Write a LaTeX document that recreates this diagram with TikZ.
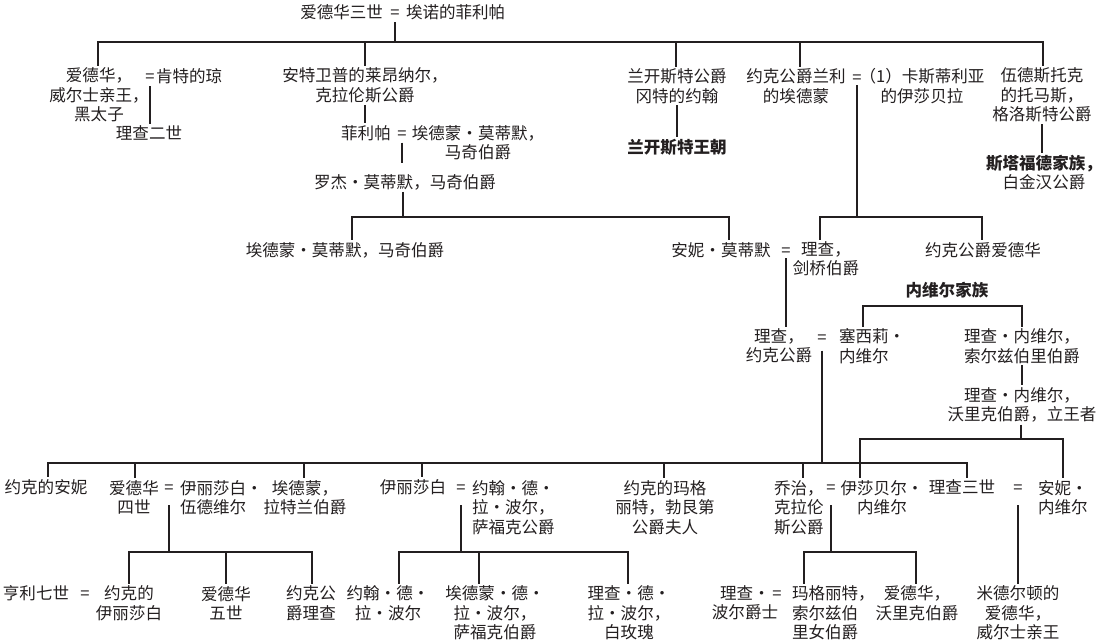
\documentclass[tikz,border=0pt]{standalone}
\usepackage{fontspec}
\setmainfont{Noto Sans CJK SC}
\usetikzlibrary{calc}
\definecolor{ink}{HTML}{231F20}
\newcommand\md{\makebox[1em]{·}}
\newcommand\fs{\fontsize{12.4pt}{14.6pt}\selectfont}
\newcommand\dropto[3]{\draw[ln] (#1) -| ($(#2.north)+(#3,0)$);}
\begin{document}
\begin{tikzpicture}[x=0.75pt,y=-0.75pt,
  lbl/.style={inner sep=0pt,outer sep=1.5pt,align=center,font=\fs,text=ink},
  lbll/.style={lbl,align=left,anchor=west},
  eq/.style={inner sep=0pt,outer sep=0pt,font=\fs,text=ink,text height=10.9pt,text depth=1.5pt},
  ln/.style={draw=ink,line width=1.5pt},
  bold/.style={font=\fs\bfseries}]
\fill[white] (0,0) rectangle (1103,642);
\useasboundingbox (0,0) rectangle (1103,642);

% ---- generation 1
\node[lbl,anchor=east] (edw3) at (385,12) {爱德华三世};
\node[eq] (m0) at (395,12) {=};
\node[lbl,anchor=west] (phil) at (404,12) {埃诺的菲利帕};

% ---- generation 2
\node[lbl] (bprince) at (99,95) {爱德华，\\威尔士亲王，\\黑太子};
\node[eq] (mbp) at (150,76) {=};
\node[lbl,anchor=west] (joan) at (154,76) {肯特的琼};
\node[lbl] (rich2) at (149,133) {理查二世};
\node[lbl] (lionel) at (365,85.5) {安特卫普的莱昂纳尔，\\克拉伦斯公爵};
\node[lbl] (phil2) at (366,133) {菲利帕};
\node[eq] (mmort) at (402,133) {=};
\node[lbl] (edmort) at (478,142.5) {埃德蒙\md 莫蒂默，\\马奇伯爵};
\node[lbl] (roger) at (405,182) {罗杰\md 莫蒂默，马奇伯爵};
\node[lbl] (edm2) at (345,250) {埃德蒙\md 莫蒂默，马奇伯爵};
\node[lbl] (annem) at (721,250) {安妮\md 莫蒂默};
\node[eq] (mcam) at (786,250) {=};
\node[lbl] (richcam) at (826,259) {理查，\\剑桥伯爵};
\node[lbl] (gaunt) at (677,86) {兰开斯特公爵\\冈特的约翰};
\node[lbl,bold] (lanc) at (677,147) {兰开斯特王朝};
\node[lbl] (langley) at (796,86) {约克公爵兰利\\的埃德蒙};
\node[eq] (mlang) at (857,77) {=};
\node[lbl] (isacast) at (922,86) {（1）卡斯蒂利亚\\的伊莎贝拉};
\node[lbl] (woodst) at (1042,95) {伍德斯托克\\的托马斯，\\格洛斯特公爵};
\node[lbl] (staff) at (1044,172.5) {\textbf{斯塔福德家族，}\\白金汉公爵};
\node[lbl] (yorked) at (983,250) {约克公爵爱德华};

% ---- Neville
\node[lbl,bold] (nev) at (947,290) {内维尔家族};
\node[lbl] (richyork) at (779,346) {理查，\\约克公爵};
\node[eq] (myork) at (822,337) {=};
\node[lbll] (cecily) at (837,346) {塞西莉\md\\内维尔};
\node[lbl] (salis) at (1022,346) {理查\md 内维尔，\\索尔兹伯里伯爵};
\node[lbl] (warw) at (1022,405) {理查\md 内维尔，\\沃里克伯爵，立王者};

% ---- row E
\node[lbl] (anney) at (46,487) {约克的安妮};
\node[lbl] (edw4) at (134,497.5) {爱德华\\四世};
\node[eq] (me4) at (169,487) {=};
\node[lbll] (woodv) at (178,497.5) {伊丽莎白\md\\伍德维尔};
\node[lbl] (edmrut) at (305,497.5) {埃德蒙，\\拉特兰伯爵};
\node[lbl] (elizy) at (413,487) {伊丽莎白};
\node[eq] (msuf) at (461,487) {=};
\node[lbll] (suffolk) at (470,507.5) {约翰\md 德\md\\拉\md 波尔，\\萨福克公爵};
\node[lbl] (margy) at (665,507.5) {约克的玛格\\丽特，勃艮第\\公爵夫人};
\node[lbll] (george) at (772,507.5) {乔治，\\克拉伦\\斯公爵};
\node[eq] (mgeo) at (831,487) {=};
\node[lbl] (isabel) at (882,497.5) {伊莎贝尔\md\\内维尔};
\node[lbl] (rich3) at (962,487) {理查三世};
\node[eq] (mr3) at (1018,487) {=};
\node[lbll] (annen) at (1036,497.5) {安妮\md\\内维尔};

% ---- row F
\node[lbl] (henry7) at (36,593) {亨利七世};
\node[eq] (mh7) at (85,593) {=};
\node[lbl] (elizy2) at (129,603) {约克的\\伊丽莎白};
\node[lbl] (edw5) at (226,603) {爱德华\\五世};
\node[lbl] (richyk) at (311,603) {约克公\\爵理查};
\node[lbl] (jdlp) at (388,603) {约翰\md 德\md\\拉\md 波尔};
\node[lbl] (edlp) at (495,613) {埃德蒙\md 德\md\\拉\md 波尔，\\萨福克伯爵};
\node[lbl] (rdlp) at (629,613) {理查\md 德\md\\拉\md 波尔，\\白玫瑰};
\node[lbl] (rpole) at (745,603) {理查\md\\波尔爵士};
\node[eq] (mpole) at (777,593) {=};
\node[lbll] (margs) at (790,613) {玛格丽特，\\索尔兹伯\\里女伯爵};
\node[lbl] (edww) at (917,603) {爱德华，\\沃里克伯爵};
\node[lbl] (edwmid) at (1018,613) {米德尔顿的\\爱德华，\\威尔士亲王};

% ---- bar points
\coordinate (b1) at (395,42);
\coordinate (b2) at (403,217);
\coordinate (b3) at (857,217);
\coordinate (b4) at (947,306);
\coordinate (b5) at (822,463);
\coordinate (b6) at (1021,439);
\coordinate (b7) at (169,552);
\coordinate (b8) at (461,552);
\coordinate (b9) at (831,552);

% ---- connectors
\draw[ln,shorten <=1.5pt] (m0.south) -- (b1);
\dropto{b1}{bprince}{-1.5}
\dropto{b1}{lionel}{0}
\dropto{b1}{gaunt}{-1}
\dropto{b1}{langley}{4}
\dropto{b1}{woodst}{1}

\draw[ln,shorten <=1.5pt] (mbp.south) -- (mbp.south |- rich2.north);
\draw[ln] (lionel.south) -- (lionel.south |- phil2.north);
\draw[ln,shorten <=1pt,shorten >=7pt] (mmort.south) -- (mmort.south |- roger.north);
\draw[ln] (roger.south -| b2) -- (b2);
\dropto{b2}{edm2}{7}
\dropto{b2}{annem}{8}
\draw[ln] (mcam.south) -- (mcam.south |- richyork.north);

\draw[ln] (gaunt.south) -- (gaunt.south |- lanc.north);
\draw[ln] (woodst.south) -- (woodst.south |- staff.north);

\draw[ln] (mlang.south) -- (b3);
\dropto{b3}{richcam}{-6}
\dropto{b3}{yorked}{-1}

\dropto{b4}{cecily}{-9}
\dropto{b4}{salis}{0}
\draw[ln] (salis.south) -- (salis.south |- warw.north);
\draw[ln] (warw.south -| b6) -- (b6);
\dropto{b6}{isabel}{-22}
\dropto{b6}{annen}{0}

\draw[ln,shorten <=4pt] (myork.south) -- (b5);
\dropto{b5}{anney}{2}
\dropto{b5}{edw4}{1}
\dropto{b5}{edmrut}{-1}
\dropto{b5}{elizy}{9}
\dropto{b5}{margy}{-1}
\dropto{b5}{george}{4}
\dropto{b5}{rich3}{5}

\draw[ln,shorten <=7.5pt] (me4.south) -- (b7);
\dropto{b7}{elizy2}{0}
\dropto{b7}{edw5}{0}
\dropto{b7}{richyk}{1}

\draw[ln,shorten <=7.5pt] (msuf.south) -- (b8);
\dropto{b8}{jdlp}{11}
\dropto{b8}{edlp}{-16}
\dropto{b8}{rdlp}{-1.5}

\draw[ln,shorten <=7.5pt] (mgeo.south) -- (b9);
\dropto{b9}{margs}{-29}
\dropto{b9}{edww}{-1}

\draw[ln,shorten <=7.5pt] (mr3.south) -- (mr3.south |- edwmid.north);
\end{tikzpicture}
\end{document}
